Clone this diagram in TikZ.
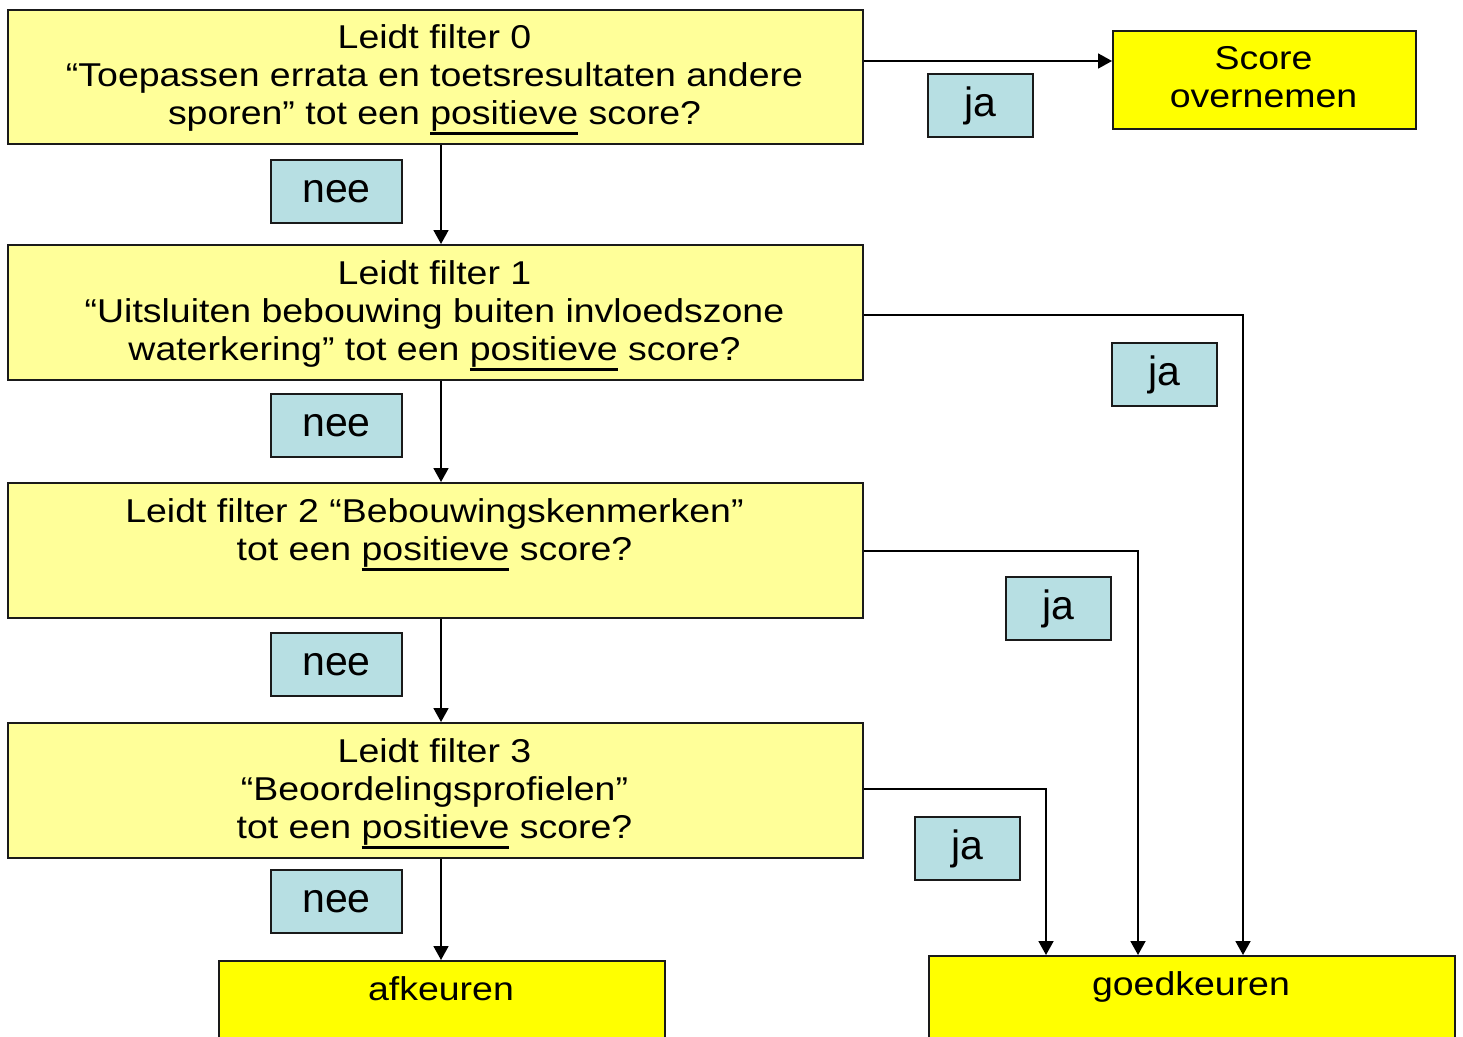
\documentclass[tikz,border=0pt]{standalone}
\usepackage{fontspec}
\setmainfont{Liberation Sans}[FakeStretch=1.135]
\newfontfamily\lblfont{Liberation Sans}
\usetikzlibrary{arrows.meta}
\definecolor{lyel}{HTML}{FFFF99}
\definecolor{yel}{HTML}{FFFF00}
\definecolor{lblue}{HTML}{B7DFE3}
\definecolor{edge}{HTML}{1A1A1A}
\newcommand\mytxt{\fontsize{33}{38}\selectfont}
\newcommand\mylbl{\lblfont\fontsize{41}{46}\selectfont}
\newsavebox\ulbox
\newcommand\uln[1]{\sbox\ulbox{#1}\rlap{\rule[-10.5pt]{\wd\ulbox}{3pt}}\usebox\ulbox}
\newcommand\fst{\rule{0pt}{25pt}}
\begin{document}
\begin{tikzpicture}[x=1pt,y=-1pt,
  bigbox/.style={draw=edge, fill=lyel, anchor=north west, inner sep=0pt, line width=1.8pt},
  endbox/.style={bigbox, fill=yel},
  ftext/.style={font=\mytxt, align=center, anchor=north, inner sep=0pt},
  etext/.style={font=\mytxt, anchor=base, inner sep=0pt},
  lbl/.style={draw=edge, fill=lblue, line width=1.8pt, minimum width=105pt, minimum height=63pt, font=\mylbl, inner sep=0pt},
  neelbl/.style={lbl, minimum width=131pt},
  arr/.style={draw=black, line width=1.8pt, -{Triangle[length=14pt,width=15pt]}}]
\useasboundingbox (0,0) rectangle (1463,1036);
\clip (0,0) rectangle (1463,1036);
\fill[white] (0,0) rectangle (1463,1036);
% main boxes
\node[bigbox, minimum width=855pt, minimum height=134pt] (f0) at (7,9) {};
\node[bigbox, minimum width=855pt, minimum height=135pt] (f1) at (7,244) {};
\node[bigbox, minimum width=855pt, minimum height=135pt] (f2) at (7,482) {};
\node[bigbox, minimum width=855pt, minimum height=135pt] (f3) at (7,722) {};
\node[endbox, minimum width=303pt, minimum height=98pt] (score) at (1112,30) {};
\node[endbox, minimum width=446pt, minimum height=110pt] (afk) at (218,960) {};
\node[endbox, minimum width=526pt, minimum height=110pt] (goed) at (928,955) {};
% texts
\node[ftext] (t0) at (434.5,23) {\fst Leidt filter 0\\“Toepassen errata en toetsresultaten andere\\sporen” tot een \uln{positieve} score?};
\node[ftext] (t1) at (434.5,259.5) {\fst Leidt filter 1\\“Uitsluiten bebouwing buiten invloedszone\\waterkering” tot een \uln{positieve} score?};
\node[ftext] (t2) at (434.5,497) {\fst Leidt filter 2 “Bebouwingskenmerken”\\tot een \uln{positieve} score?};
\node[ftext] (t3) at (434.5,737) {\fst Leidt filter 3\\“Beoordelingsprofielen”\\tot een \uln{positieve} score?};
\node[ftext] (ts) at (1263.5,44) {\fst Score\\overnemen};
\node[etext] (ta) at (441,1000) {afkeuren};
\node[etext] (tg) at (1191,995) {goedkeuren};
% labels
\node[lbl] (ja1) at (980.5,105.5) {ja};
\node[lbl] (ja2) at (1164.5,374.5) {ja};
\node[lbl] (ja3) at (1058.5,608.5) {ja};
\node[lbl] (ja4) at (967.5,848.5) {ja};
\node[neelbl] (nee1) at (336.5,191.5) {nee};
\node[neelbl] (nee2) at (336.5,425.5) {nee};
\node[neelbl] (nee3) at (336.5,664.5) {nee};
\node[neelbl] (nee4) at (336.5,901.5) {nee};
% connectors
\coordinate (cx) at (441,0);
\coordinate (c0) at (0,61);
\coordinate (r1) at (1243,315);
\coordinate (r2) at (1138,551);
\coordinate (r3) at (1046,789);
\draw[arr] (f0.east |- c0) -- (score.west |- c0);
\draw[arr] (f0.south -| cx) -- (f1.north -| cx);
\draw[arr] (f1.south -| cx) -- (f2.north -| cx);
\draw[arr] (f2.south -| cx) -- (f3.north -| cx);
\draw[arr] (f3.south -| cx) -- (afk.north -| cx);
\draw[arr] (f1.east |- r1) -| (goed.north -| r1);
\draw[arr] (f2.east |- r2) -| (goed.north -| r2);
\draw[arr] (f3.east |- r3) -| (goed.north -| r3);
\end{tikzpicture}
\end{document}
